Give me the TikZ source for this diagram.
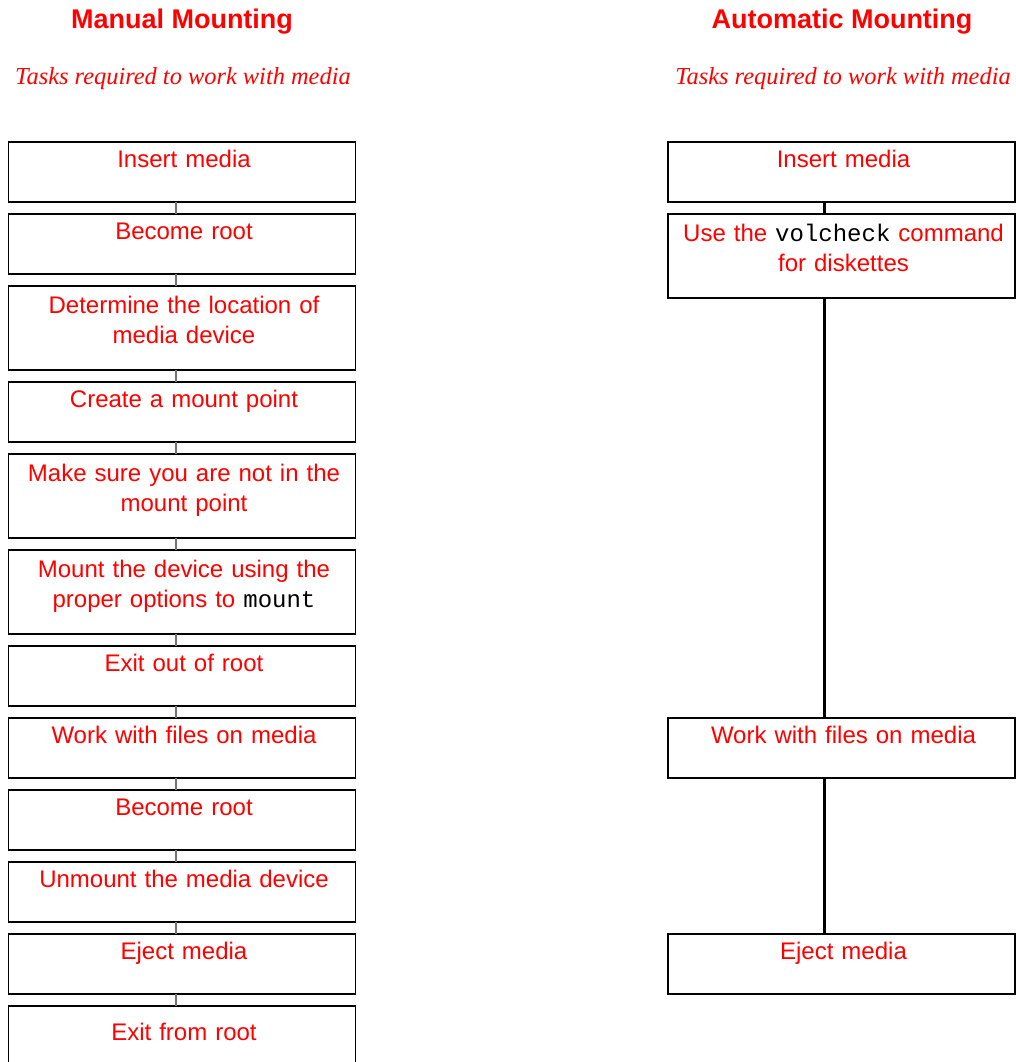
\documentclass[tikz,border=0pt]{standalone}
\usepackage{fontspec}
\setmainfont{Liberation Sans}
\setmonofont{Liberation Mono}
\newfontfamily\subfont{Liberation Serif}
\begin{document}
\begin{tikzpicture}[x=1pt,y=-1pt,
  stepbox/.style={draw=black, line width=1.1pt, minimum width=347pt, minimum height=60pt,
    inner sep=0pt, outer sep=0pt, anchor=north},
  tallbox/.style={stepbox, minimum height=84pt},
  txt/.style={text=red, font=\fontsize{24}{30}\selectfont, align=center, text width=346pt,
    inner sep=0pt, anchor=base, xshift=2pt},
  ttl/.style={text=red, font=\fontsize{27}{32}\selectfont\bfseries, inner sep=0pt, anchor=base},
  sub/.style={text=red, font=\fontsize{24.4}{28}\selectfont\subfont\itshape, inner sep=0pt, anchor=base},
  lconn/.style={draw=black!55, line width=1.4pt},
  rconn/.style={draw=black, line width=3pt}]
\useasboundingbox (0,0) rectangle (1016,1062);
\clip (0,0) rectangle (1016,1062);
\newcommand\mono[1]{{\color{black}\ttfamily #1}}

% titles
\node[ttl] (t1) at (182,28.5) {Manual Mounting};
\node[ttl] (t2) at (842,28.5) {Automatic Mounting};
\node[sub] (s1) at (183,85) {Tasks required to work with media};
\node[sub] (s2) at (843,85) {Tasks required to work with media};

% left column
\node[stepbox] (L1) at (182,142) {};
\node[stepbox] (L2) at (182,214) {};
\node[tallbox] (L3) at (182,286) {};
\node[stepbox] (L4) at (182,382) {};
\node[tallbox] (L5) at (182,454) {};
\node[tallbox] (L6) at (182,550) {};
\node[stepbox] (L7) at (182,646) {};
\node[stepbox] (L8) at (182,718) {};
\node[stepbox] (L9) at (182,790) {};
\node[stepbox] (L10) at (182,862) {};
\node[stepbox] (L11) at (182,934) {};
\node[stepbox] (L12) at (182,1006) {};

\node[txt] (l1t) at ([yshift=-25pt]L1.north) {Insert media};
\node[txt] (l2t) at ([yshift=-25pt]L2.north) {Become root};
\node[txt] (l3t) at ([yshift=-27.5pt]L3.north) {Determine the location of\\media device};
\node[txt] (l4t) at ([yshift=-25pt]L4.north) {Create a mount point};
\node[txt] (l5t) at ([yshift=-27.5pt]L5.north) {Make sure you are not in the\\mount point};
\node[txt] (l6t) at ([yshift=-27.5pt]L6.north) {Mount the device using the\\proper options to \mono{mount}};
\node[txt] (l7t) at ([yshift=-25pt]L7.north) {Exit out of root};
\node[txt] (l8t) at ([yshift=-25pt]L8.north) {Work with files on media};
\node[txt] (l9t) at ([yshift=-25pt]L9.north) {Become root};
\node[txt] (l10t) at ([yshift=-25pt]L10.north) {Unmount the media device};
\node[txt] (l11t) at ([yshift=-25pt]L11.north) {Eject media};
\node[txt] (l12t) at ([yshift=-34.5pt]L12.north) {Exit from root};

\foreach \a/\b in {L1/L2,L2/L3,L3/L4,L4/L5,L5/L6,L6/L7,L7/L8,L8/L9,L9/L10,L10/L11,L11/L12}
  \draw[lconn] ([xshift=-6pt]\a.south) -- ([xshift=-6pt]\b.north);

% right column
\node[stepbox] (R1) at (841.5,142) {};
\node[tallbox] (R2) at (841.5,214) {};
\node[stepbox] (R3) at (841.5,718) {};
\node[stepbox] (R4) at (841.5,934) {};

\node[txt] (r1t) at ([yshift=-25pt]R1.north) {Insert media};
\node[txt] (r2t) at ([yshift=-27.5pt]R2.north) {Use the \mono{volcheck} command\\for diskettes};
\node[txt] (r3t) at ([yshift=-25pt]R3.north) {Work with files on media};
\node[txt] (r4t) at ([yshift=-25pt]R4.north) {Eject media};

\foreach \a/\b in {R1/R2,R2/R3,R3/R4}
  \draw[rconn] ([xshift=-17.5pt]\a.south) -- ([xshift=-17.5pt]\b.north);
\end{tikzpicture}
\end{document}
